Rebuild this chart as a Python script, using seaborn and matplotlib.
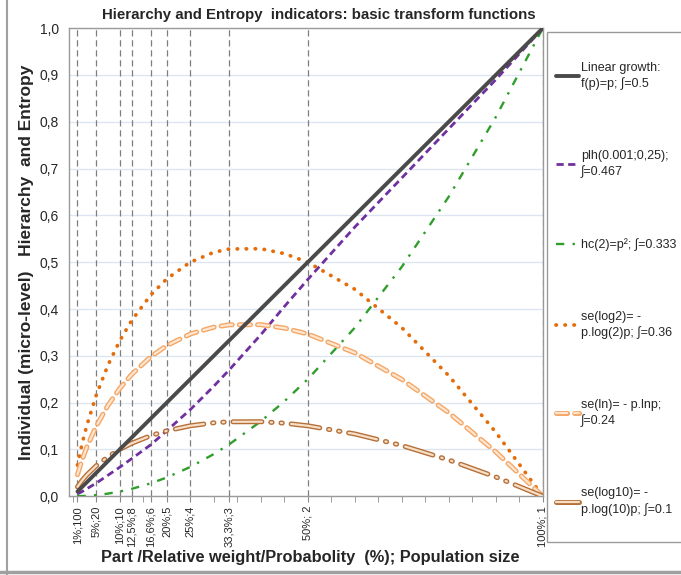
import matplotlib
matplotlib.use("Agg")
import matplotlib.pyplot as plt
import matplotlib.patheffects as pe
from matplotlib.lines import Line2D
from matplotlib.patches import Rectangle
import seaborn as sns
import pandas as pd

# probabilities where the curves were read
p = [0.01, 0.02, 0.03, 0.05, 0.075, 0.1, 0.125, 0.166, 0.2, 0.25, 0.3, 0.333,
     0.4, 0.45, 0.5, 0.6, 0.7, 0.8, 0.9, 1.0]

linear = [0.01, 0.02, 0.03, 0.05, 0.075, 0.1, 0.125, 0.166, 0.2, 0.25, 0.3, 0.333,
          0.4, 0.45, 0.5, 0.6, 0.7, 0.8, 0.9, 1.0]
plh = [0.005, 0.01, 0.016, 0.028, 0.045, 0.062, 0.08, 0.11, 0.14, 0.185, 0.235, 0.27,
       0.345, 0.405, 0.463, 0.575, 0.68, 0.785, 0.89, 1.0]
hc2 = [0.0001, 0.0004, 0.0009, 0.0025, 0.0056, 0.01, 0.0156, 0.0276, 0.04, 0.0625, 0.09, 0.1109,
       0.16, 0.2025, 0.25, 0.36, 0.49, 0.64, 0.81, 1.0]
se_log2 = [0.0664, 0.1129, 0.1518, 0.2161, 0.2803, 0.3322, 0.375, 0.4301, 0.4644, 0.5, 0.5211, 0.5283,
           0.5288, 0.5184, 0.5, 0.4422, 0.3602, 0.2575, 0.1368, 0.0]
se_ln = [0.0461, 0.0782, 0.1052, 0.1498, 0.1943, 0.2303, 0.2599, 0.2981, 0.3219, 0.3466, 0.3612, 0.3662,
         0.3665, 0.3593, 0.3466, 0.3065, 0.2497, 0.1785, 0.0948, 0.0]
se_log10 = [0.02, 0.034, 0.0457, 0.0651, 0.0844, 0.1, 0.1129, 0.1295, 0.1398, 0.1505, 0.1569, 0.159,
            0.1592, 0.1561, 0.1505, 0.1331, 0.1084, 0.0775, 0.0412, 0.0]

tick_p = [0.01, 0.05, 0.1, 0.125, 0.166, 0.2, 0.25, 0.333, 0.5, 1.0]
tick_labels = ["1%;100", "5%;20", "10%;10", "12,5%;8", "16,6%;6", "20%;5", "25%;4",
               "33,3%;3", "50%; 2", "100%; 1"]
y_ticks = [0.0, 0.1, 0.2, 0.3, 0.4, 0.5, 0.6, 0.7, 0.8, 0.9, 1.0]

labels = ["Linear growth:\nf(p)=p; \u222b=0.5",
          "plh(0.001;0,25);\n\u222b=0.467",
          "hc(2)=p\u00b2; \u222b=0.333",
          "se(log2)= -\np.log(2)p; \u222b=0.36",
          "se(ln)= - p.lnp;\n\u222b=0.24",
          "se(log10)= -\np.log(10)p; \u222b=0.1"]

sns.set_style("white")
plt.rcParams['font.family'] = ['Liberation Sans', 'DejaVu Sans']

df = pd.DataFrame({'p': p, 'linear': linear, 'plh': plh, 'hc2': hc2,
                   'se_log2': se_log2, 'se_ln': se_ln, 'se_log10': se_log10})

fig = plt.figure(figsize=(6.81, 5.75), dpi=100)
ax = fig.add_axes([0.101, 0.137, 0.696, 0.814])

# vertical reference lines at the labelled parts
ax.vlines(tick_p, 0, 1, colors='#7f7f7f', linestyles=(0, (5, 3)), lw=0.9, zorder=1)

sns.lineplot(data=df, x='p', y='linear', ax=ax, color='#4a4a4a', lw=2.8,
             label=labels[0], zorder=5)
sns.lineplot(data=df, x='p', y='plh', ax=ax, color='#7030A0', lw=2.0,
             linestyle=(0, (2.6, 1.6)), label=labels[1], zorder=4)
sns.lineplot(data=df, x='p', y='hc2', ax=ax, color='#2f9e2a', lw=1.7,
             linestyle=(0, (3.5, 3.5, 1, 3.5)), label=labels[2], zorder=4)
sns.lineplot(data=df, x='p', y='se_log2', ax=ax, color='#E46C0A', lw=2.7,
             linestyle=(0, (0.1, 2.3)), dash_capstyle='round', label=labels[3], zorder=4)
sns.lineplot(data=df, x='p', y='se_ln', ax=ax, color='#fde6d2', lw=1.6,
             linestyle=(0, (5, 3.2)), dash_capstyle='round', label=labels[4], zorder=4,
             path_effects=[pe.Stroke(linewidth=3.6, foreground='#F5A766'), pe.Normal()])
sns.lineplot(data=df, x='p', y='se_log10', ax=ax, color='#f7dfc6', lw=1.6,
             linestyle=(0, (13, 4, 0.6, 4, 0.6, 4)), dash_capstyle='round',
             label=labels[5], zorder=4,
             path_effects=[pe.Stroke(linewidth=3.6, foreground='#b5703a'), pe.Normal()])

ax.set_xlim(-0.0085, 1.0)
ax.set_ylim(0, 1.0)
ax.set_xticks(tick_p)
ax.set_xticklabels(tick_labels, rotation=90, fontsize=8)
ax.set_xticks([i * 0.05 for i in range(21)], minor=True)
ax.tick_params(axis='x', which='both', direction='out', length=4, color='#8c8c8c',
               bottom=True, pad=3)
ax.set_yticks(y_ticks)
ax.set_yticklabels([f"{v:.1f}".replace('.', ',') for v in y_ticks], fontsize=10)
ax.tick_params(axis='y', length=0, pad=7)
ax.yaxis.grid(True, color='#dce6f2', lw=1.0)
ax.set_axisbelow(True)
for s in ax.spines.values():
    s.set_color('#9a9a9a')
    s.set_linewidth(1.0)

ax.set_xlabel("")
ax.set_ylabel("Individual (micro-level)   Hierarchy  and Entropy",
              fontsize=12.5, fontweight='bold', labelpad=4)
fig.text(0.455, 0.030, "Part /Relative weight/Probabolity  (%); Population size",
         fontsize=11.8, fontweight='bold', ha='center', va='center')
fig.text(0.468, 0.974, "Hierarchy and Entropy  indicators: basic transform functions",
         fontsize=10.8, fontweight='bold', ha='center', va='center')

# legend box, drawn separately so it can run off the right edge like the source
fig.add_artist(Rectangle((0.803, 0.0574), 0.25, 0.887, transform=fig.transFigure,
                         facecolor='white', edgecolor='#9a9a9a', lw=1.0, zorder=1))
handles, lbls = ax.get_legend_handles_labels()
ax.get_legend().remove()
leg = fig.legend(handles, lbls, loc='upper left', bbox_to_anchor=(0.816, 0.893),
                 fontsize=9, frameon=False,
                 handlelength=1.85, handletextpad=0.15, labelspacing=4.8,
                 borderpad=0, borderaxespad=0)
for t in leg.get_texts():
    t.set_linespacing(1.35)
leg.set_zorder(10)

# page frame lines from the source document
fig.add_artist(Line2D([0.01, 0.01], [0.0, 1.0], color='#a0a0a0', lw=1.5))
fig.add_artist(Line2D([0.0, 1.0], [0.006, 0.006], color='#a0a0a0', lw=2.5))

fig.savefig("out.png", dpi=100)
